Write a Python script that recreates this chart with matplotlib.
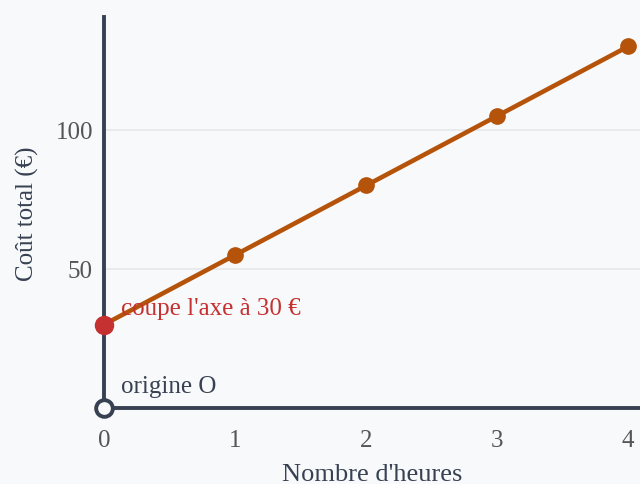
import numpy as np
import matplotlib
matplotlib.use("Agg")
import matplotlib.pyplot as plt

# data
hours = [0, 1, 2, 3, 4]
cost = [30, 55, 80, 105, 130]
y_ticks = [50, 100]
x_ticks = [0, 1, 2, 3, 4]

bg = "#f8f9fb"
axis_col = "#374151"
line_col = "#b45309"
red = "#c53030"

plt.rcParams["font.family"] = ["Liberation Serif", "DejaVu Serif"]

fig = plt.figure(figsize=(6.4, 4.85), dpi=100, facecolor=bg)
ax = fig.add_axes([0.1625, 0.1567, 0.8375, 0.8063])
ax.set_facecolor(bg)
ax.set_xlim(0, 4.09)
ax.set_ylim(0, 140.6)

for yv in y_ticks:
    ax.axhline(yv, color="#e5e7eb", lw=1.2, zorder=0)

ax.plot(hours, cost, color=line_col, lw=3.3, marker="o", ms=11, zorder=3, clip_on=False)
ax.plot([hours[0]], [cost[0]], "o", color=red, ms=13, zorder=4, clip_on=False)

for s in ["top", "right"]:
    ax.spines[s].set_visible(False)
for s in ["left", "bottom"]:
    ax.spines[s].set_color(axis_col)
    ax.spines[s].set_linewidth(2.8)

ax.plot([0], [0], "o", mfc=bg, mec=axis_col, mew=2.8, ms=12, zorder=5, clip_on=False)

ax.set_xticks(x_ticks)
ax.set_yticks(y_ticks)
ax.tick_params(length=0, labelsize=18, labelcolor="#555555")
ax.tick_params(axis="x", pad=15)
ax.tick_params(axis="y", pad=8)
ax.set_xlabel("Nombre d'heures", fontsize=19, color=axis_col, labelpad=9)
ax.set_ylabel("Coût total (€)", fontsize=18, color=axis_col, labelpad=12)

ax.annotate("coupe l'axe à 30 €", xy=(0, 30), xytext=(12, 12), textcoords="offset points",
            fontsize=18, color=red, va="center", ha="left")
ax.annotate("origine O", xy=(0, 0), xytext=(12, 15.5), textcoords="offset points",
            fontsize=18, color=axis_col, va="center", ha="left")

fig.savefig("out.png", dpi=100, facecolor=bg)
